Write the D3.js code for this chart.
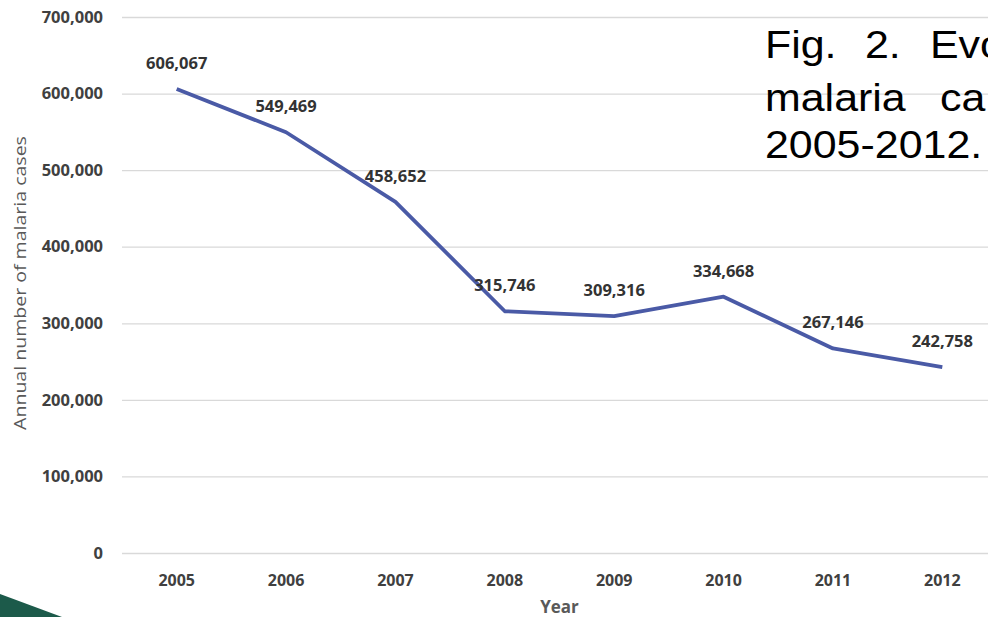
<!DOCTYPE html>
<html>
<head>
<meta charset="utf-8">
<script src="https://cdn.jsdelivr.net/npm/d3@7"></script>
<style>
  html, body { margin: 0; padding: 0; background: #fff; }
  svg { display: block; }
</style>
</head>
<body>
<svg id="chart" width="988" height="617"></svg>
<script>
// Annual malaria cases, 2005-2012
const years = ["2005", "2006", "2007", "2008", "2009", "2010", "2011", "2012"];
const cases = [606067, 549469, 458652, 315746, 309316, 334668, 267146, 242758];
const yTicks = [0, 100000, 200000, 300000, 400000, 500000, 600000, 700000];
const captionLines = [
  ["Fig.", "2.", "Evo"],
  ["malaria", "ca"],
  ["2005-2012."]
];

const svg = d3.select("#chart");
const W = 988, H = 617;

const plot = { left: 122, right: 997, top: 17, bottom: 553 };

const x = d3.scaleBand().domain(years).range([plot.left, plot.right]);
const y = d3.scaleLinear().domain([0, 700000]).range([plot.bottom, plot.top]);
const fmt = d3.format(",");

const labelFont = "'Open Sans', sans-serif";

// Horizontal gridlines and value ticks
const yAxis = d3.axisLeft(y)
  .tickValues(yTicks)
  .tickFormat(fmt)
  .tickSize(-(W - plot.left))
  .tickPadding(19);

const gy = svg.append("g")
  .attr("transform", `translate(${plot.left},0)`)
  .call(yAxis);
gy.select(".domain").remove();
gy.selectAll(".tick line").attr("stroke", "#d9d9d9").attr("stroke-width", 1.3);
gy.selectAll(".tick text")
  .attr("fill", "#404040")
  .style("font-family", labelFont)
  .style("font-weight", 700)
  .style("font-size", "16.5px");

// Year labels
const xAxis = d3.axisBottom(x).tickSize(0).tickPadding(22);
const gx = svg.append("g")
  .attr("transform", `translate(0,${plot.bottom})`)
  .call(xAxis);
gx.select(".domain").remove();
gx.selectAll(".tick text")
  .attr("fill", "#404040")
  .style("font-family", labelFont)
  .style("font-weight", 700)
  .style("font-size", "16px");

// Axis titles
svg.append("text")
  .attr("transform", `translate(26,${(plot.top + plot.bottom) / 2 - 2}) rotate(-90) scale(1.15,1)`)
  .attr("text-anchor", "middle")
  .attr("fill", "#595959")
  .style("font-family", labelFont)
  .style("font-size", "17px")
  .text("Annual number of malaria cases");

svg.append("text")
  .attr("x", (plot.left + plot.right) / 2)
  .attr("y", 613)
  .attr("text-anchor", "middle")
  .attr("fill", "#595959")
  .style("font-family", labelFont)
  .style("font-weight", 700)
  .style("font-size", "17px")
  .text("Year");

// Series line
const cx = d => x(d) + x.bandwidth() / 2;
const line = d3.line()
  .x((d, i) => cx(years[i]))
  .y(d => y(d));

svg.append("path")
  .datum(cases)
  .attr("d", line)
  .attr("fill", "none")
  .attr("stroke", "#4a5aa6")
  .attr("stroke-width", 3.8)
  .attr("stroke-linejoin", "round");

// Value labels above each point
svg.append("g")
  .selectAll("text")
  .data(cases)
  .join("text")
  .attr("x", (d, i) => cx(years[i]))
  .attr("y", d => y(d) - 20)
  .attr("text-anchor", "middle")
  .attr("fill", "#333")
  .style("font-family", labelFont)
  .style("font-weight", 700)
  .style("font-size", "16.5px")
  .text(d => fmt(d));

// Figure caption (justified, running off the right edge)
const capScale = 1.13;
const capX = [[765, 865, 930], [765, 940], [765]];
const capY = [58, 111, 158];
const cap = svg.append("g")
  .attr("transform", `scale(${capScale},1)`)
  .style("font-family", "'Liberation Sans', Arial, sans-serif")
  .style("font-size", "38px")
  .attr("fill", "#000");
captionLines.forEach((words, li) => {
  words.forEach((w, wi) => {
    cap.append("text")
      .attr("x", capX[li][wi] / capScale)
      .attr("y", capY[li])
      .text(w);
  });
});

// Corner decoration
svg.append("polygon")
  .attr("points", `0,594 62,617 0,617`)
  .attr("fill", "#1c5a4a");
</script>
</body>
</html>
